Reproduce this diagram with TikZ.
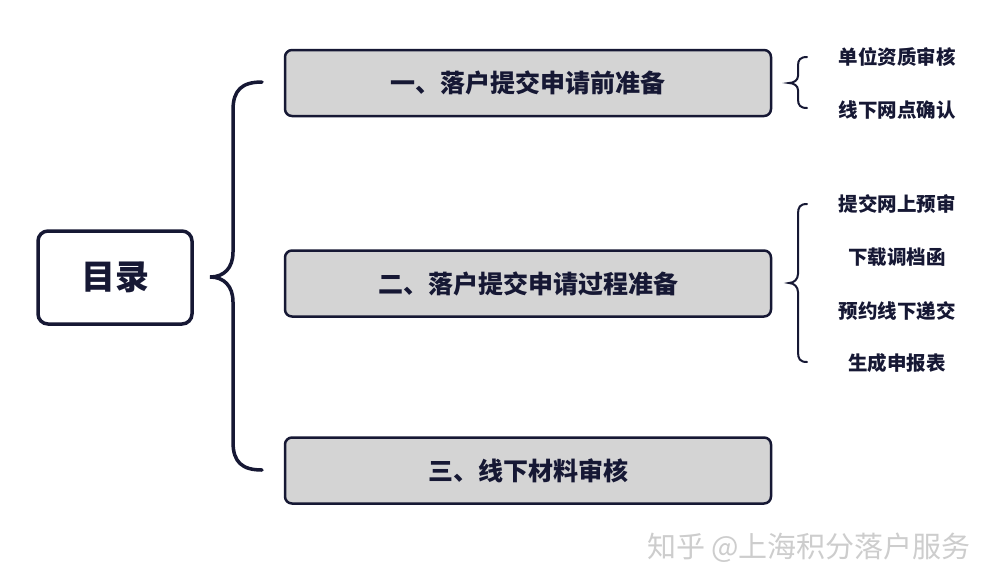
\documentclass[tikz,border=0pt]{standalone}
\usepackage{fontspec}
\setmainfont{Noto Sans CJK SC}
\definecolor{navy}{RGB}{22,24,52}
\definecolor{boxgray}{RGB}{212,212,212}
\definecolor{wmgray}{RGB}{205,205,205}
\begin{document}
\begin{tikzpicture}[x=1pt,y=-1pt,
  mainbox/.style={draw=navy,line width=3.5pt,rounded corners=10pt,fill=white,
    minimum width=154pt,minimum height=93pt,inner sep=0pt,
    font=\fontsize{34}{34}\selectfont\bfseries,text=navy},
  secbox/.style={draw=navy,line width=2.5pt,rounded corners=7pt,fill=boxgray,
    minimum width=486pt,minimum height=66pt,inner sep=0pt,
    font=\fontsize{25}{25}\selectfont\bfseries,text=navy},
  subitem/.style={inner sep=0pt,font=\fontsize{19.5}{19.5}\selectfont\bfseries,text=navy},
  bigbrace/.style={draw=navy,line width=3.5pt,line cap=round},
  smallbrace/.style={draw=navy,line width=2pt,line cap=round},
  wm/.style={inner sep=0pt,font=\fontsize{29}{29}\selectfont,text=wmgray}]
\useasboundingbox[fill=white] (0,0) rectangle (1000,587);

\node[mainbox] (toc) at (115,277.5) {目录};

\node[secbox] (s1) at (528,83) {一、落户提交申请前准备};
\node[secbox] (s2) at (528,283.5) {二、落户提交申请过程准备};
\node[secbox] (s3) at (528,470.5) {三、线下材料审核};

% big brace
\coordinate (bt) at (262,82);
\coordinate (bm) at (210,277);
\coordinate (bb) at (262,470);
\draw[bigbrace] (bt) .. controls (242,82) and (233,90) .. (233,110) -- (233,252)
  .. controls (233,268) and (224,277) .. (bm)
  .. controls (224,277) and (233,286) .. (233,302) -- (233,442)
  .. controls (233,462) and (242,470) .. (bb);

% sub items
\node[subitem] (a1) at (897,57) {单位资质审核};
\node[subitem] (a2) at (897,110) {线下网点确认};
\node[subitem] (b1) at (897,204) {提交网上预审};
\node[subitem] (b2) at (897,257.5) {下载调档函};
\node[subitem] (b3) at (897,311) {预约线下递交};
\node[subitem] (b4) at (897,363) {生成申报表};

% small brace 1
\coordinate (t1) at (807,57);
\coordinate (m1) at (789,83);
\coordinate (e1) at (807,108);
\draw[smallbrace] (t1) .. controls (800,57) and (798,60) .. (798,66) -- (798,76)
  .. controls (798,80) and (794,83) .. (m1)
  .. controls (794,83) and (798,86) .. (798,90) -- (798,99)
  .. controls (798,105) and (800,108) .. (e1);

% small brace 2
\coordinate (t2) at (807,204);
\coordinate (m2) at (789,283);
\coordinate (e2) at (807,362);
\draw[smallbrace] (t2) .. controls (800,204) and (798,207) .. (798,214) -- (798,274)
  .. controls (798,279) and (794,283) .. (m2)
  .. controls (794,283) and (798,287) .. (798,292) -- (798,352)
  .. controls (798,359) and (800,362) .. (e2);

% watermark
\node[wm] (w) at (809,548) {知乎 @上海积分落户服务};
\end{tikzpicture}
\end{document}
